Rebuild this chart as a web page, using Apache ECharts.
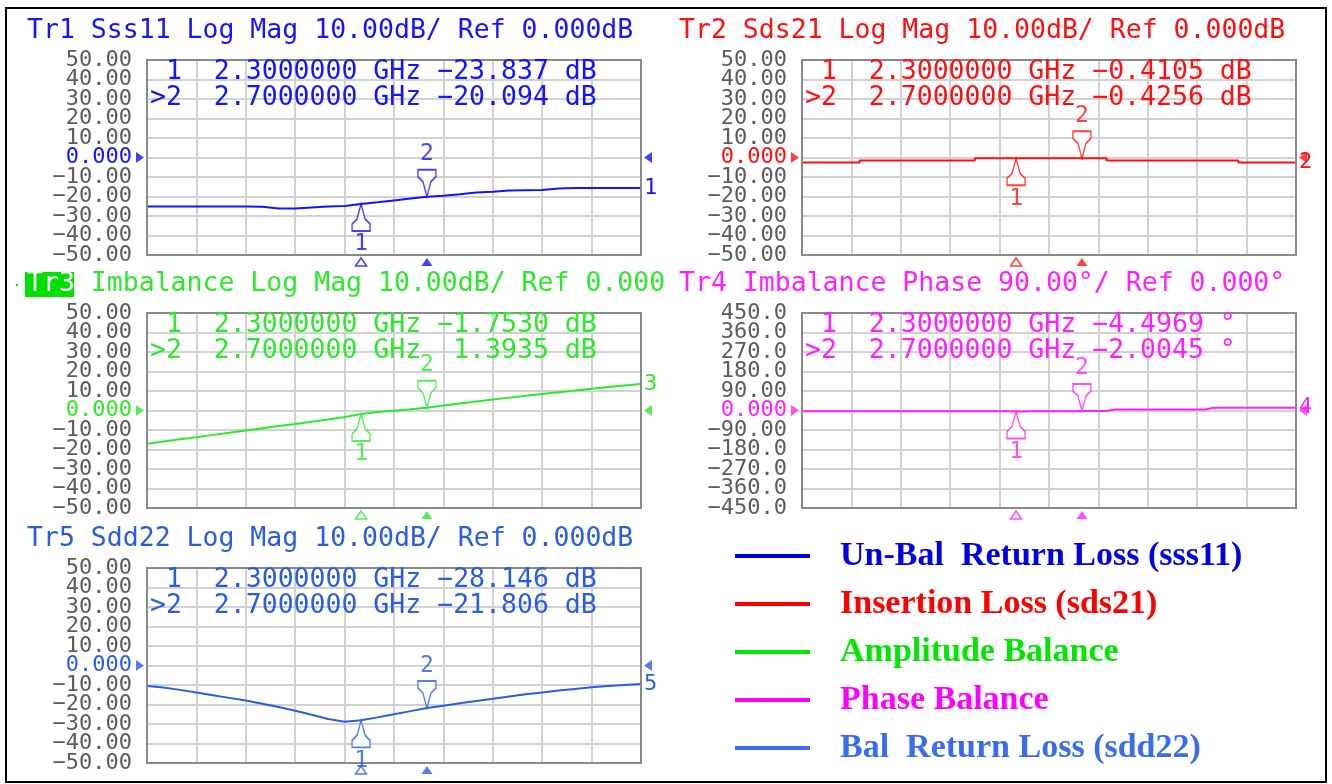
<!DOCTYPE html>
<html><head><meta charset="utf-8">
<script src="https://cdn.jsdelivr.net/npm/echarts@6/dist/echarts.min.js"></script>
<style>html,body{margin:0;padding:0;background:#fff}#c{width:1332px;height:784px}</style>
</head><body><div id="c"></div>
<script>
// ---- data ----
const freqGHz = [1.0,1.1,1.2,1.3,1.4,1.5,1.6,1.7,1.8,1.9,2.0,2.1,2.2,2.3,2.4,2.5,2.6,2.7,2.8,2.9,3.0,3.1,3.2,3.3,3.4,3.5,3.6,3.7,3.8,3.9,4.0];
const sss11 = [-25.1,-25.1,-25.1,-25.1,-25.1,-25.1,-25.1,-25.2,-26.1,-26.2,-25.6,-25.1,-24.9,-23.8,-23.0,-22.0,-21.0,-20.1,-19.6,-18.9,-18.0,-17.6,-16.9,-16.8,-16.7,-15.9,-15.7,-15.7,-15.7,-15.6,-15.6];
const sds21 = [-2.6,-2.6,-2.6,-2.6,-1.5,-1.5,-1.5,-1.5,-1.5,-1.5,-1.5,-0.42,-0.42,-0.41,-0.42,-0.42,-0.42,-0.43,-0.42,-1.5,-1.5,-1.5,-1.5,-1.5,-1.5,-1.5,-1.5,-2.6,-2.6,-2.6,-2.6];
const imbalanceMag = [-17.0,-15.9,-14.8,-13.7,-12.5,-11.4,-10.2,-9.1,-8.0,-6.9,-5.8,-4.6,-3.3,-1.75,-0.8,-0.1,0.6,1.39,2.6,3.6,4.6,5.6,6.6,7.6,8.5,9.4,10.3,11.2,12.0,12.8,13.6];
const imbalancePhase = [-3.5,-3.5,-3.5,-3.5,-3.5,-3.5,-3.5,-3.5,-3.5,-3.5,-3.5,-3.5,-3.5,-4.5,-3.0,-3.0,-3.0,-2.0,-2.0,5,5,5,5,5,5,13,13,13,13,13,13];
const sdd22 = [-10.5,-11.3,-12.5,-13.8,-15.2,-16.6,-18.0,-19.6,-21.3,-23.2,-25.3,-27.4,-28.9,-28.1,-26.6,-25.0,-23.4,-21.8,-20.6,-19.4,-18.2,-17.0,-15.9,-14.8,-13.8,-12.8,-12.0,-11.2,-10.5,-10.0,-9.5];

const markerFreqs = [2.3, 2.7];
const sss11Markers = [-23.837, -20.094];
const sds21Markers = [-0.4105, -0.4256];
const imbalanceMagMarkers = [-1.7530, 1.3935];
const imbalancePhaseMarkers = [-4.4969, -2.0045];
const sdd22Markers = [-28.146, -21.806];

const dbTickLabels = ['−50.00','−40.00','−30.00','−20.00','−10.00','0.000','10.00','20.00','30.00','40.00','50.00'];
const phaseTickLabels = ['−450.0','−360.0','−270.0','−180.0','−90.00','0.000','90.00','180.0','270.0','360.0','450.0'];

const legendNames = ['Un-Bal  Return Loss (sss11)','Insertion Loss (sds21)','Amplitude Balance','Phase Balance','Bal  Return Loss (sdd22)'];

// ---- layout & style ----
const MONO = '"DejaVu Sans Mono", monospace';
const FS = 26.5, CW = FS * 0.602;
const legendColors = ['#0000e6','#ff0000','#00e600','#ff00ff','#3a6cf0'];
const panels = [
  {left:147, top:60,  color:'#1414ff', title:'Tr1 Sss11 Log Mag 10.00dB/ Ref 0.000dB', tx:27, ty:31, data:sss11, mk:sss11Markers, dec:3, unit:'dB', ticks:dbTickLabels, ymin:-50, ymax:50, yint:10, no:'1', step:false},
  {left:802, top:60,  color:'#ff1010', title:'Tr2 Sds21 Log Mag 10.00dB/ Ref 0.000dB', tx:679, ty:31, data:sds21, mk:sds21Markers, dec:4, unit:'dB', ticks:dbTickLabels, ymin:-50, ymax:50, yint:10, no:'2', step:'middle'},
  {left:147, top:313, color:'#2ee82e', title:'Tr3 Imbalance Log Mag 10.00dB/ Ref 0.000', tx:27, ty:284, data:imbalanceMag, mk:imbalanceMagMarkers, dec:4, unit:'dB', ticks:dbTickLabels, ymin:-50, ymax:50, yint:10, no:'3', step:false},
  {left:802, top:313, color:'#ff20ff', title:'Tr4 Imbalance Phase 90.00°/ Ref 0.000°', tx:679, ty:284, data:imbalancePhase, mk:imbalancePhaseMarkers, dec:4, unit:'°', ticks:phaseTickLabels, ymin:-450, ymax:450, yint:90, no:'4', step:'middle'},
  {left:147, top:568, color:'#2b5ce6', title:'Tr5 Sdd22 Log Mag 10.00dB/ Ref 0.000dB', tx:27, ty:539, data:sdd22, mk:sdd22Markers, dec:3, unit:'dB', ticks:dbTickLabels, ymin:-50, ymax:50, yint:10, no:'5', step:false}
];
const GW = 494, GH = 195;
const upPath = 'path://M8,0 L12,15 L17,20 L17,27 L-1,27 L-1,20 L4,15 Z';
const downPath = 'path://M-1,0 L17,0 L17,7 L12,12 L8,27 L4,12 L-1,7 Z';

function fmtVal(v, dec) { return (v < 0 ? '−' : ' ') + Math.abs(v).toFixed(dec); }

const grid = [], xAxis = [], yAxis = [], series = [], graphic = [];
panels.forEach((p, i) => {
  grid.push({left:p.left, top:p.top, width:GW, height:GH, show:true, backgroundColor:'#fff', borderWidth:0});
  xAxis.push({gridIndex:i, type:'value', min:0, max:10, interval:1, position:'bottom',
    axisLine:{show:false}, axisTick:{show:false}, axisLabel:{show:false},
    splitLine:{show:true, lineStyle:{color:'#d2d2d2', width:2}}});
  xAxis.push({gridIndex:i, type:'value', min:1, max:4, position:'top', show:false, splitLine:{show:false}});
  // two label axes on the same scale: one labels even ticks, the other odd ticks (avoids auto-hiding)
  [0, 1].forEach(par => {
    yAxis.push({gridIndex:i, type:'value', position:'left', offset:0, min:p.ymin, max:p.ymax, interval:p.yint,
      axisLine:{show:false}, axisTick:{show:false},
      splitLine:{show:par === 0, lineStyle:{color:'#d2d2d2', width:2}},
      axisLabel:{margin:15, fontFamily:MONO, fontSize:22, color:'#5c5c5c', showMinLabel:true, showMaxLabel:true,
        formatter:(v) => {
          const k = Math.round((v - p.ymin) / p.yint);
          if (k % 2 !== par) return '';
          const s = p.ticks[k];
          return Math.abs(v) < 1e-9 ? '{z|' + s + '}' : s;
        },
        rich:{z:{color:p.color, fontFamily:MONO, fontSize:22}}}});
  });
  const xi = i * 2 + 1, yi = i * 2;
  series.push({name:legendNames[i], type:'line', xAxisIndex:xi, yAxisIndex:yi, showSymbol:false, symbol:'none',
    step:p.step, z:3, itemStyle:{color:legendColors[i]}, lineStyle:{color:p.color, width:2},
    data: freqGHz.map((f, k) => [f, p.data[k]]),
    endLabel:{show:true, formatter:p.no, color:p.color, fontFamily:MONO, fontSize:22, distance:3},
    emphasis:{disabled:true}, animation:false});
  series.push({type:'scatter', xAxisIndex:xi, yAxisIndex:yi, clip:false, z:5, animation:false, silent:true,
    data:[
      {value:[markerFreqs[0], p.mk[0]], symbol:upPath, symbolSize:[18,27], symbolOffset:[0,13.5],
        itemStyle:{color:'#fff', borderColor:p.color, borderWidth:1.6},
        label:{show:true, position:'bottom', distance:1, formatter:'1', color:p.color, fontFamily:MONO, fontSize:23}},
      {value:[markerFreqs[1], p.mk[1]], symbol:downPath, symbolSize:[18,27], symbolOffset:[0,-13.5],
        itemStyle:{color:'#fff', borderColor:p.color, borderWidth:1.6},
        label:{show:true, position:'top', distance:3, formatter:'2', color:p.color, fontFamily:MONO, fontSize:23}}
    ]});
  series.push({type:'scatter', xAxisIndex:xi, yAxisIndex:yi, clip:false, z:5, animation:false, silent:true,
    symbol:'triangle', symbolSize:[11,8], symbolOffset:[0,7],
    data:[
      {value:[markerFreqs[0], p.ymin], itemStyle:{color:'#fff', borderColor:p.color, borderWidth:1.5}},
      {value:[markerFreqs[1], p.ymin], itemStyle:{color:p.color}}
    ]});
  series.push({type:'scatter', xAxisIndex:xi, yAxisIndex:yi, clip:false, z:5, animation:false, silent:true,
    symbol:'triangle', symbolSize:[11,8],
    data:[
      {value:[1, 0], symbolRotate:-90, symbolOffset:[-7,0], itemStyle:{color:p.color}},
      {value:[4, 0], symbolRotate:90, symbolOffset:[7,0], itemStyle:{color:p.color}}
    ]});
  graphic.push({type:'rect', silent:true, z:4, shape:{x:p.left, y:p.top, width:GW, height:GH}, style:{fill:null, stroke:'#8a8a8a', lineWidth:2}});
  const font = FS + 'px ' + MONO;
  if (i === 2) {
    graphic.push({type:'rect', shape:{x:25, y:272, width:49, height:25}, style:{fill:'#00e000'}, z:10});
    graphic.push({type:'rect', shape:{x:16, y:284, width:2, height:2}, style:{fill:'#00e000'}, z:10});
    graphic.push({type:'text', x:p.tx, y:p.ty, z:11, style:{text:'Tr3', fill:'#ffffff', font, verticalAlign:'middle'}});
    graphic.push({type:'text', x:p.tx + 4 * CW, y:p.ty, z:11, style:{text:p.title.slice(4), fill:p.color, font, verticalAlign:'middle'}});
  } else {
    graphic.push({type:'text', x:p.tx, y:p.ty, z:11, style:{text:p.title, fill:p.color, font, verticalAlign:'middle'}});
  }
  const l1 = ' 1  ' + markerFreqs[0].toFixed(7) + ' GHz ' + fmtVal(p.mk[0], p.dec) + ' ' + p.unit;
  const l2 = '>2  ' + markerFreqs[1].toFixed(7) + ' GHz ' + fmtVal(p.mk[1], p.dec) + ' ' + p.unit;
  graphic.push({type:'text', x:p.left + 3, y:p.top + 12, z:11, style:{text:l1, fill:p.color, font, verticalAlign:'middle'}});
  graphic.push({type:'text', x:p.left + 3, y:p.top + 38, z:11, style:{text:l2, fill:p.color, font, verticalAlign:'middle'}});
});
graphic.push({type:'rect', shape:{x:6, y:8, width:1320, height:774}, style:{fill:null, stroke:'#000', lineWidth:2}, z:20, silent:true});

const chart = echarts.init(document.getElementById('c'), null, {renderer:'canvas'});
chart.setOption({
  animation:false,
  backgroundColor:'#fff',
  grid, xAxis, yAxis, series, graphic,
  legend:{orient:'vertical', left:730, top:534, itemWidth:75, itemHeight:4, itemGap:14, icon:'rect', selectedMode:false,
    textStyle:{fontFamily:'"Liberation Serif", serif', fontWeight:'bold', fontSize:34, padding:[0,0,0,25]},
    data: legendNames.map((n, i) => ({name:n, textStyle:{color:legendColors[i]}}))}
});
</script></body></html>
